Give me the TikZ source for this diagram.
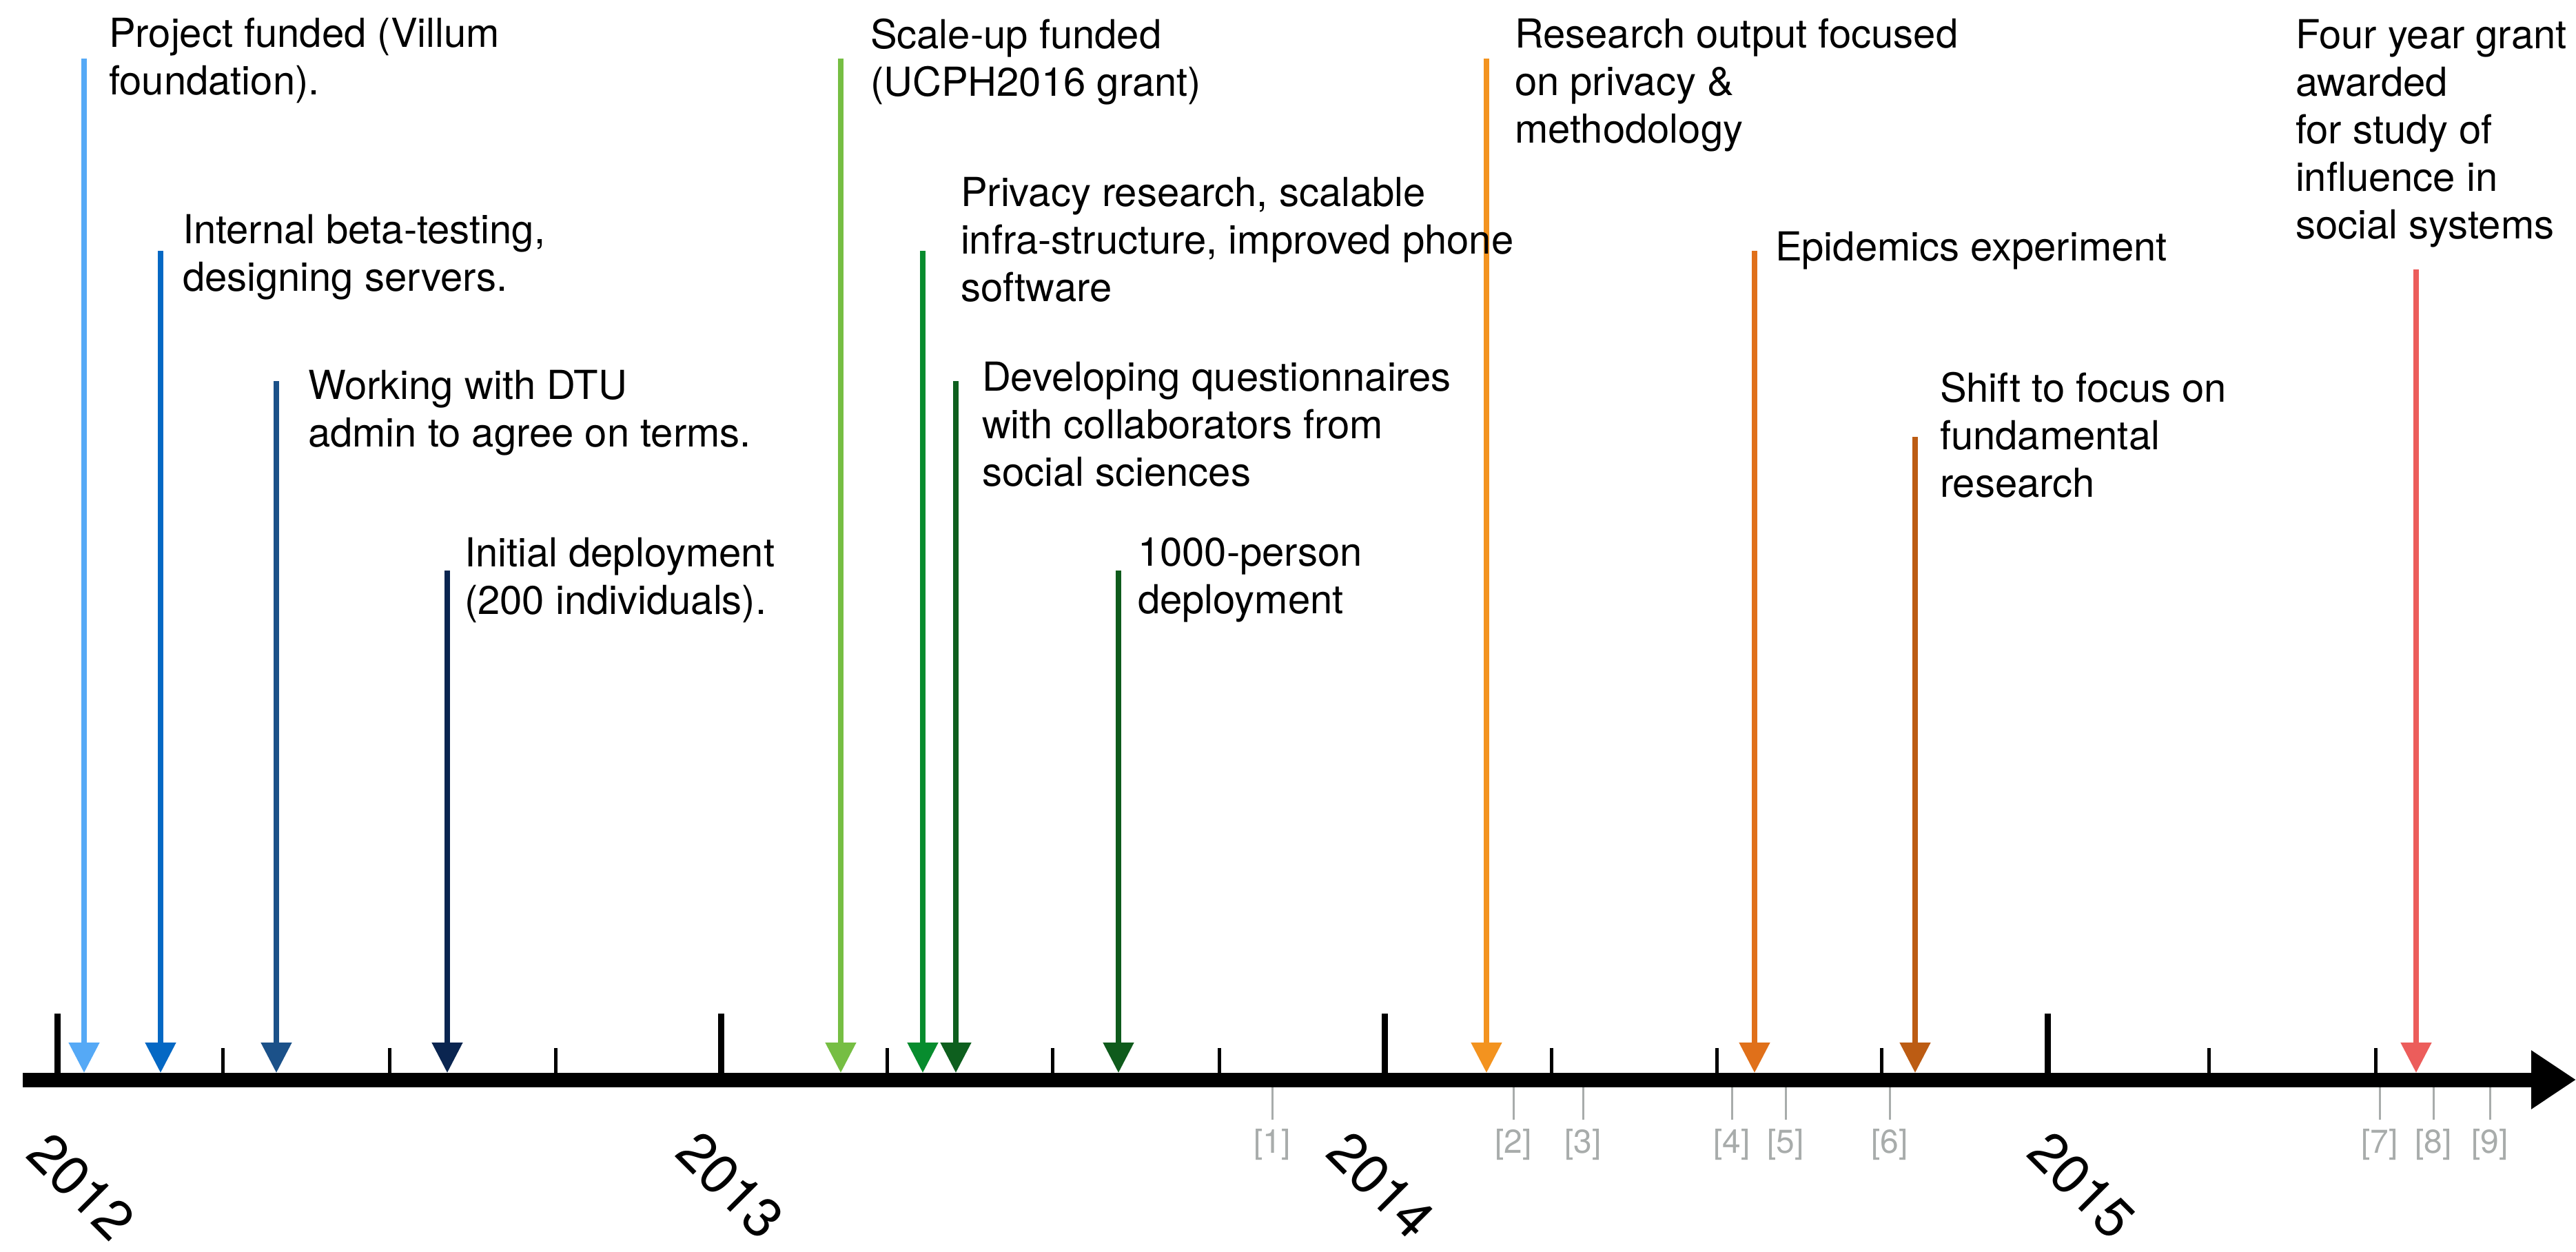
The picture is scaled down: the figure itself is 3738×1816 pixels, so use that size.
\documentclass[tikz,border=0pt]{standalone}
\usepackage{fontspec}
\setmainfont{TeX Gyre Heros}
\usetikzlibrary{arrows.meta}
\definecolor{cA}{HTML}{55A9F6}
\definecolor{cB}{HTML}{0468C4}
\definecolor{cC}{HTML}{1B5189}
\definecolor{cD}{HTML}{0A2550}
\definecolor{cE}{HTML}{76BE43}
\definecolor{cF}{HTML}{078C2E}
\definecolor{cG}{HTML}{0E5F1E}
\definecolor{cH}{HTML}{0F5B1C}
\definecolor{cI}{HTML}{F3931F}
\definecolor{cJ}{HTML}{E0701A}
\definecolor{cK}{HTML}{BC5C13}
\definecolor{cL}{HTML}{EC5D5B}
\definecolor{refgray}{HTML}{A8ACAB}
\newcommand\tlstrut{\rule{0pt}{0.8em}}
\begin{document}
\begin{tikzpicture}[x=0.2pt,y=-0.2pt,
  lbl/.style={anchor=north west, inner sep=0pt, align=left, font=\fontsize{11.6pt}{13.8pt}\selectfont},
  evt/.style={line width=1.6pt, -{Triangle[length=8.8pt,width=8.6pt]}},
  axisline/.style={line width=4.2pt, -{Triangle[length=13pt,width=16.2pt]}},
  majortick/.style={line width=1.8pt},
  minortick/.style={line width=1pt},
  refline/.style={line width=0.6pt, refgray},
  reflbl/.style={inner sep=0pt, text=refgray, font=\fontsize{9.6pt}{11pt}\selectfont},
  yearlbl/.style={inner sep=0pt, rotate=-45, font=\fontsize{16pt}{18pt}\selectfont}]
\useasboundingbox (0,0) rectangle (3738,1816);

% ticks
\foreach \x [count=\i] in {83,1046,2009,2971} {
  \coordinate (M\i a) at (\x,1471);
  \coordinate (M\i b) at (\x,1567);
  \draw[majortick] (M\i a) -- (M\i b);
}
\foreach \x [count=\i] in {323,565,806,1287,1527,1769,2251,2491,2730,3205,3447} {
  \coordinate (m\i a) at (\x,1521);
  \coordinate (m\i b) at (\x,1567);
  \draw[minortick] (m\i a) -- (m\i b);
}

% axis
\coordinate (axL) at (33,1567);
\coordinate (axR) at (3738,1567);
\draw[axisline] (axL) -- (axR);

% reference markers
\foreach \x/\t [count=\i] in {1846/1,2196/2,2297/3,2513/4,2591/5,2742/6,3453/7,3531/8,3613/9} {
  \coordinate (R\i a) at (\x,1578);
  \coordinate (R\i b) at (\x,1625);
  \draw[refline] (R\i a) -- (R\i b);
  \node[reflbl] (ref\i) at (\x,1661) {[\t]};
}

% years
\node[yearlbl] (y2012) at (118,1722) {2012};
\node[yearlbl] (y2013) at (1060,1720) {2013};
\node[yearlbl] (y2014) at (2004,1720) {2014};
\node[yearlbl] (y2015) at (3021,1720) {2015};

% events
\foreach \x/\top/\c [count=\i] in {122/85/cA,233/364/cB,401/553/cC,649/828/cD,1220/85/cE,1339/364/cF,1387/553/cG,1623/828/cH,2157/85/cI,2546/364/cJ,2779/634/cK,3506/391/cL} {
  \coordinate (e\i top) at (\x,\top);
  \coordinate (e\i tip) at (\x,1557);
  \draw[evt,\c] (e\i top) -- (e\i tip);
}

% labels
\node[lbl] (l1) at (157,21) {\tlstrut Project funded (Villum\\foundation).};
\node[lbl] (l2) at (264,306) {\tlstrut Internal beta-testing,\\designing servers.};
\node[lbl] (l3) at (446,532) {\tlstrut Working with DTU\\admin to agree on terms.};
\node[lbl] (l4) at (673,775) {\tlstrut Initial deployment\\(200 individuals).};
\node[lbl] (l5) at (1262,23) {\tlstrut Scale-up funded\\(UCPH2016 grant)};
\node[lbl] (l6) at (1393,252) {\tlstrut Privacy research, scalable\\infra-structure, improved phone\\software};
\node[lbl] (l7) at (1424,520) {\tlstrut Developing questionnaires\\with collaborators from\\social sciences};
\node[lbl] (l8) at (1650,774) {\tlstrut 1000-person\\deployment};
\node[lbl] (l9) at (2197,22) {\tlstrut Research output focused\\on privacy \&\\methodology};
\node[lbl] (l10) at (2575,331) {\tlstrut Epidemics experiment};
\node[lbl] (l11) at (2814,536) {\tlstrut Shift to focus on\\fundamental\\research};
\node[lbl] (l12) at (3330,23) {\tlstrut Four year grant\\awarded\\for study of\\influence in\\social systems};
\end{tikzpicture}
\end{document}
